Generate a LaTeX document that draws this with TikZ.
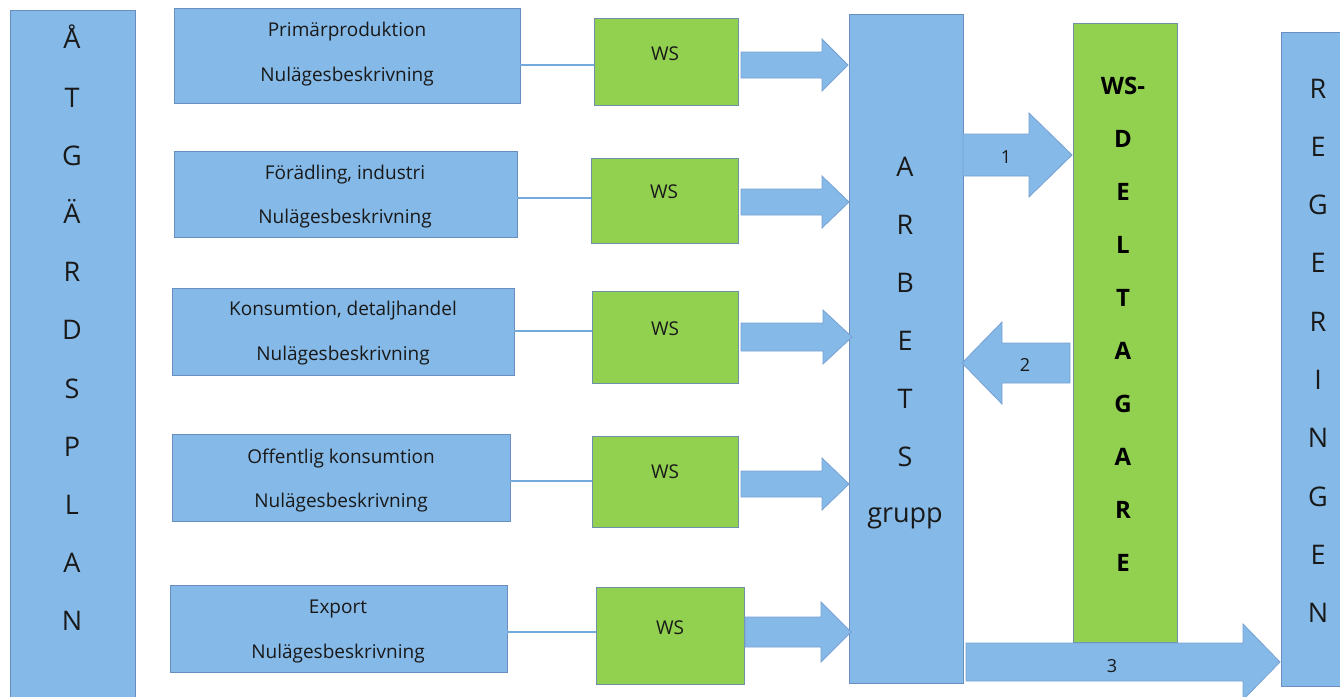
\documentclass[tikz,border=0pt]{standalone}
\usepackage{fontspec}
\setmainfont{Open Sans}
\definecolor{bfill}{RGB}{133,185,231}
\definecolor{bdraw}{RGB}{104,143,192}
\definecolor{gfill}{RGB}{146,208,80}
\definecolor{gdraw}{RGB}{112,143,170}
\definecolor{afill}{RGB}{133,185,231}
\definecolor{adraw}{RGB}{120,162,212}
\definecolor{cline}{RGB}{115,170,222}
\tikzset{
  bluebox/.style={draw=bdraw, fill=bfill, line width=0.9pt, inner sep=0pt, outer sep=0pt},
  greenbox/.style={draw=gdraw, fill=gfill, line width=0.9pt, inner sep=0pt, outer sep=0pt},
  blk/.style={draw=adraw, fill=afill, line width=0.8pt, line join=miter},
  conn/.style={draw=cline, line width=1.1pt},
  txt/.style={font=\fontsize{19}{22}\selectfont, inner sep=0pt, anchor=base, text=black!90},
  vl/.style={font=\fontsize{27}{30}\selectfont, inner sep=0pt, anchor=base, text=black!90},
  vlb/.style={font=\fontsize{24}{26}\selectfont\bfseries, inner sep=0pt, anchor=base, text=black},
  num/.style={font=\fontsize{18}{20}\selectfont, inner sep=0pt, anchor=base, text=black!90}
}
% box: name, style, x1, y1, x2, y2
\newcommand\rbox[6]{\node[#2, anchor=north west, minimum width={#5pt-#3pt}, minimum height={#6pt-#4pt}] (#1) at (#3,#4) {};}
% block arrow: tail x, head start x, tip x, centre y, shaft half, head half
\newcommand\blkarrow[6]{\path[blk] (#1,#4-#5) -- (#2,#4-#5) -- (#2,#4-#6) -- (#3,#4) -- (#2,#4+#6) -- (#2,#4+#5) -- (#1,#4+#5) -- cycle;}
\begin{document}
\begin{tikzpicture}[x=1pt,y=-1pt]
\useasboundingbox[fill=white] (0,0) rectangle (1340,696);
% big vertical boxes
\rbox{atg}{bluebox}{10}{10}{135}{705}
\rbox{arb}{bluebox}{849}{14}{963}{683}
\rbox{wsd}{greenbox}{1073}{23}{1177}{642}
\rbox{reg}{bluebox}{1281}{32}{1350}{686}
% left blue boxes
\rbox{b1}{bluebox}{174}{8}{520}{103}
\rbox{b2}{bluebox}{174}{151}{517}{237}
\rbox{b3}{bluebox}{172}{288}{514}{375}
\rbox{b4}{bluebox}{172}{434}{510}{521}
\rbox{b5}{bluebox}{170}{585}{507}{672}
% green WS boxes
\rbox{g1}{greenbox}{594}{18}{738}{105}
\rbox{g2}{greenbox}{591}{158}{738}{243}
\rbox{g3}{greenbox}{592}{291}{738}{383}
\rbox{g4}{greenbox}{592}{436}{738}{527}
\rbox{g5}{greenbox}{596}{587}{744}{684}
% thin connectors
\draw[conn] (b1.east |- 0,65) -- (g1.west |- 0,65);
\draw[conn] (b2.east |- 0,198) -- (g2.west |- 0,198);
\draw[conn] (b3.east |- 0,331) -- (g3.west |- 0,331);
\draw[conn] (b4.east |- 0,481) -- (g4.west |- 0,481);
\draw[conn] (b5.east |- 0,632) -- (g5.west |- 0,632);
% block arrows WS -> ARBETS
\blkarrow{741}{822}{848}{65}{13}{26}
\blkarrow{741}{822}{849}{202}{13}{26}
\blkarrow{741}{823}{852}{337}{14}{27}
\blkarrow{741}{822}{849}{484}{13}{26}
\blkarrow{745}{821}{851}{632}{15}{30}
% arrows 1, 2, 3
\blkarrow{963}{1029}{1072}{155}{21}{42}
\blkarrow{1070}{1002}{962}{363}{20}{41}
\blkarrow{966}{1243}{1280}{662}{19}{38}
\node[num] (n1) at (1006,163) {1};
\node[num] (n2) at (1025,371) {2};
\node[num] (n3) at (1112,672) {3};
% texts in left boxes
\node[txt] (t1a) at (347,36) {Primärproduktion};
\node[txt] (t1b) at (347,81) {Nulägesbeskrivning};
\node[txt] (t2a) at (345,179) {Förädling, industri};
\node[txt] (t2b) at (345,223) {Nulägesbeskrivning};
\node[txt] (t3a) at (343,315) {Konsumtion, detaljhandel};
\node[txt] (t3b) at (343,360) {Nulägesbeskrivning};
\node[txt] (t4a) at (341,463) {Offentlig konsumtion};
\node[txt] (t4b) at (341,507) {Nulägesbeskrivning};
\node[txt] (t5a) at (338,613) {Export};
\node[txt] (t5b) at (338,658) {Nulägesbeskrivning};
% WS texts
\node[txt] (w1) at (665,60) {WS};
\node[txt] (w2) at (664,198) {WS};
\node[txt] (w3) at (665,335) {WS};
\node[txt] (w4) at (665,478) {WS};
\node[txt] (w5) at (670,634) {WS};
% vertical words
\foreach \l [count=\i] in {Å,T,G,Ä,R,D,S,P,L,A,N}
  \node[vl] (atg\i) at (72,{107+58.2*(\i-2)}) {\l};
\foreach \l [count=\i] in {A,R,B,E,T,S}
  \node[vl] (arb\i) at (905,{176+58*(\i-1)}) {\l};
\node[vl] (arb7) at (905,522) {grupp};
\node[vlb] (wsd0) at (1123,94) {WS-};
\foreach \l [count=\i] in {D,E,L,T,A,G,A,R,E}
  \node[vlb] (wsd\i) at (1123,{147+53*(\i-1)}) {\l};
\foreach \l [count=\i] in {R,E,G,E,R,I,N,G,E,N}
  \node[vl] (reg\i) at (1318,{98+58.3*(\i-1)}) {\l};
\end{tikzpicture}
\end{document}
